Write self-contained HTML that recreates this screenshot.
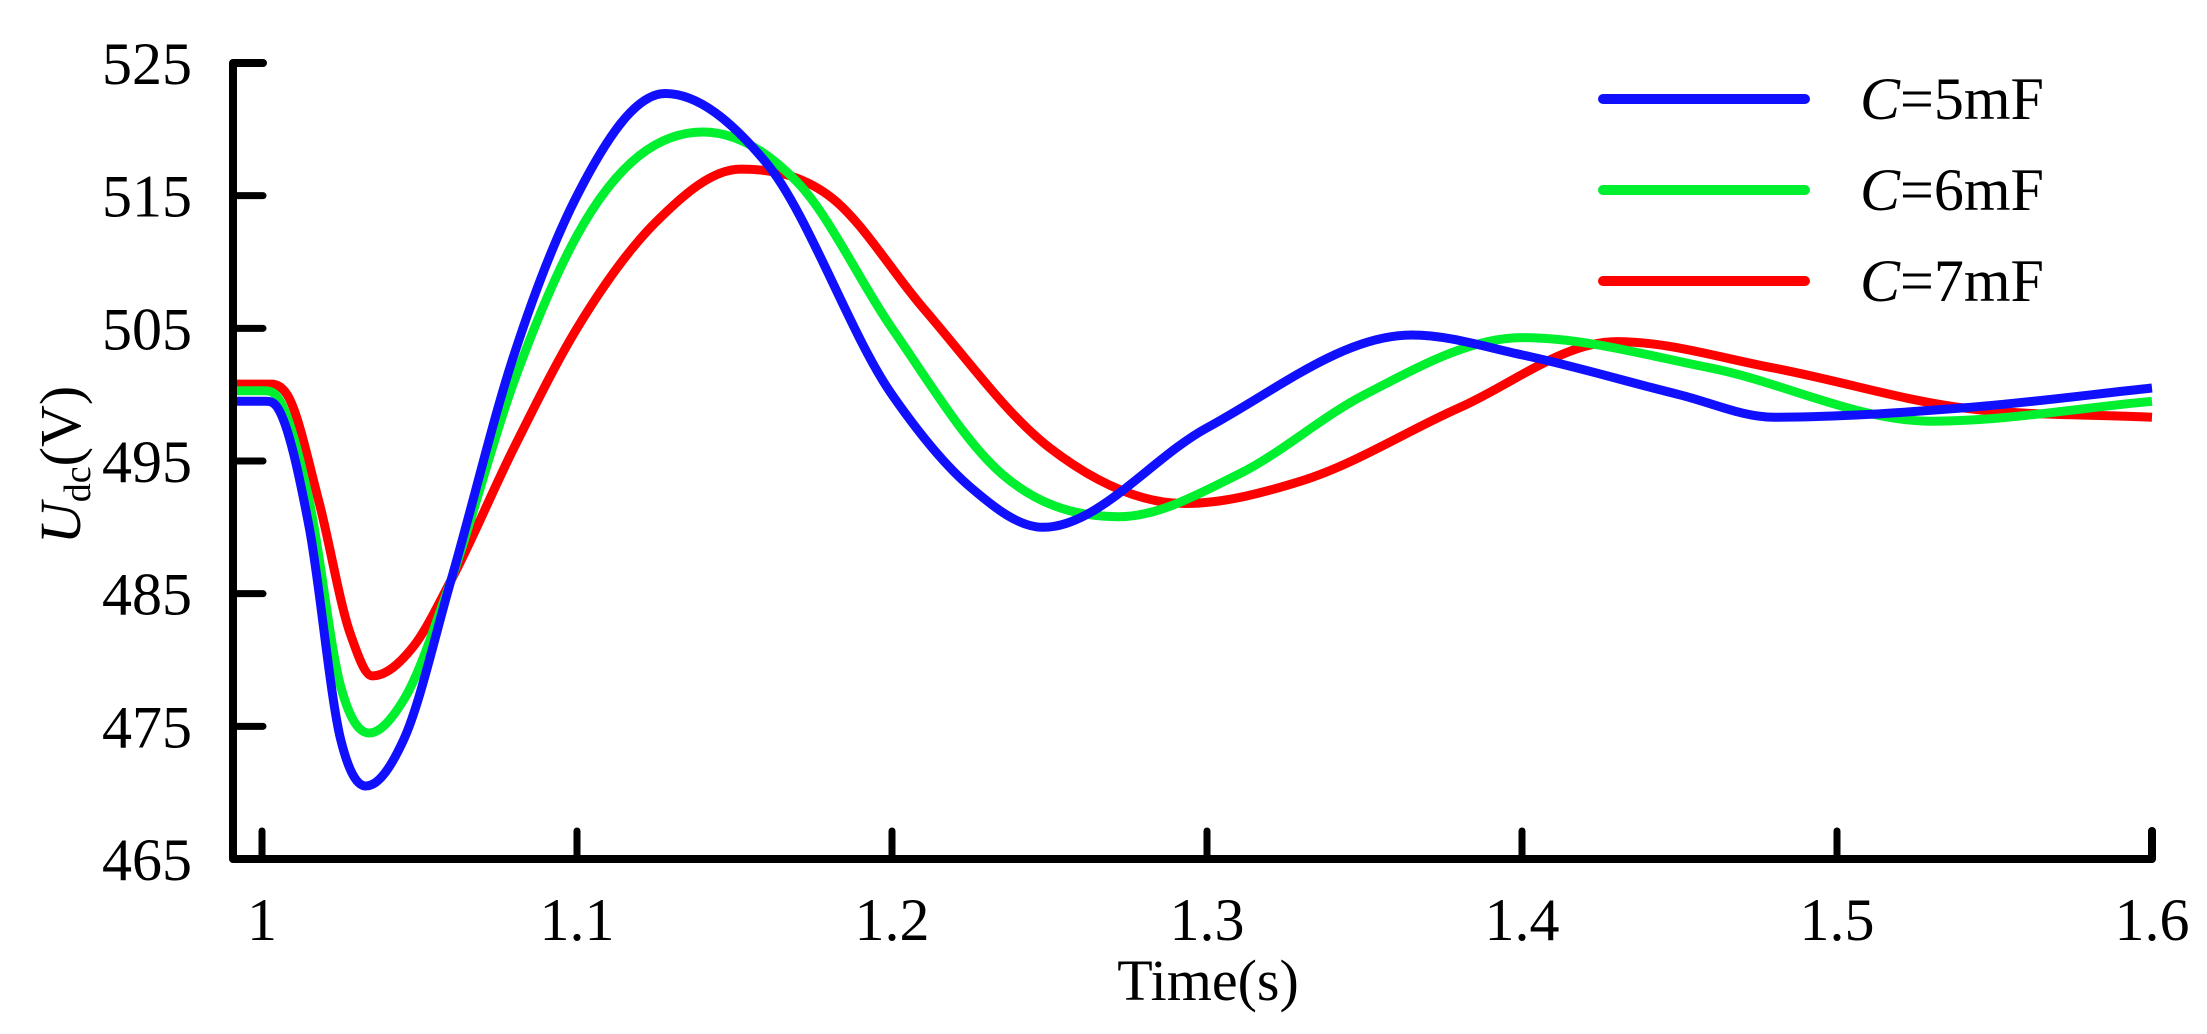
<!DOCTYPE html>
<html><head><meta charset="utf-8"><style>
html,body{margin:0;padding:0;background:#fff;}
svg{display:block;font-family:"Liberation Serif",serif;}
</style></head><body>
<svg id="chart" width="2207" height="1034" viewBox="0 0 2207 1034" xmlns="http://www.w3.org/2000/svg">
<g id="curves"></g>
<g id="axes"></g>
<text x="1208" y="1000" font-size="58" text-anchor="middle">Time(s)</text>
<text transform="translate(80,465) rotate(-90)" font-size="58" text-anchor="middle"><tspan font-style="italic">U</tspan><tspan font-size="38" dy="10">dc</tspan><tspan dy="-10">(V)</tspan></text>
<g>
 <g><line x1="1603" y1="99" x2="1805" y2="99" stroke="#1010ff" stroke-width="10" stroke-linecap="round"/><text x="1860" y="119" font-size="60"><tspan font-style="italic">C</tspan>=5mF</text></g>
 <g><line x1="1603" y1="190" x2="1805" y2="190" stroke="#00f030" stroke-width="10" stroke-linecap="round"/><text x="1860" y="210" font-size="60"><tspan font-style="italic">C</tspan>=6mF</text></g>
 <g><line x1="1603" y1="281" x2="1805" y2="281" stroke="#ff0000" stroke-width="10" stroke-linecap="round"/><text x="1860" y="301" font-size="60"><tspan font-style="italic">C</tspan>=7mF</text></g>
</g>
</svg>
<script>
const xTicks=[1,1.1,1.2,1.3,1.4,1.5,1.6];
const xTickLabels=["1","1.1","1.2","1.3","1.4","1.5","1.6"];
const yTicks=[465,475,485,495,505,515,525];
const yTickLabels=["465","475","485","495","505","515","525"];
const t5=[0.99,1.0,1.005,1.015,1.025,1.033,1.045,1.06,1.08,1.1,1.128,1.16,1.2,1.225,1.248,1.3,1.365,1.4,1.45,1.48,1.54,1.6];
const v5=[499.5,499.5,499,490,474,470.5,474,486,503,515,522.7,517.5,500,493,490,497.5,504.5,503,500,498.3,499,500.5];
const t6=[0.99,1.0,1.005,1.015,1.025,1.034,1.045,1.06,1.08,1.1,1.14,1.17,1.2,1.235,1.272,1.31,1.35,1.40,1.46,1.53,1.6];
const v6=[500.3,500.3,499.8,492,478,474.5,477,486,501,512,519.8,516,505,494,490.8,494,500,504.3,502,498,499.5];
const t7=[0.99,1.003,1.008,1.018,1.028,1.035,1.048,1.06,1.08,1.1,1.125,1.152,1.18,1.21,1.25,1.293,1.33,1.38,1.43,1.48,1.54,1.6];
const v7=[500.8,500.8,500,492,482,478.8,481,486,496,505,513,517,515,506.5,496,491.8,493.5,499,504,502,499,498.3];
const seriesColors=["#1010ff","#00f030","#ff0000"];

const X0=233,X1=2152,YB=859,YT=63;
function sx(t){return 262+(t-1)*3150;}
function sy(v){return YB-(v-465)/60*(YB-YT);}
function smooth(xs,ys){
  const n=xs.length,d=[],m=new Array(n);
  for(let i=0;i<n-1;i++)d.push((ys[i+1]-ys[i])/(xs[i+1]-xs[i]));
  m[0]=d[0];m[n-1]=d[n-2];
  for(let i=1;i<n-1;i++){
    if(d[i-1]*d[i]<=0){m[i]=0;}
    else{const h0=xs[i]-xs[i-1],h1=xs[i+1]-xs[i];m[i]=(d[i-1]*h1+d[i]*h0)/(h0+h1);}
  }
  let p="M"+sx(xs[0]).toFixed(1)+","+sy(ys[0]).toFixed(1);
  for(let i=0;i<n-1;i++){const h=xs[i+1]-xs[i];
    p+=" C"+sx(xs[i]+h/3).toFixed(1)+","+sy(ys[i]+m[i]*h/3).toFixed(1)+" "+sx(xs[i+1]-h/3).toFixed(1)+","+sy(ys[i+1]-m[i+1]*h/3).toFixed(1)+" "+sx(xs[i+1]).toFixed(1)+","+sy(ys[i+1]).toFixed(1);}
  return p;
}
const NS="http://www.w3.org/2000/svg";
const cg=document.getElementById('curves');
const ser=[[t7,v7,"c-7mf"],[t6,v6,"c-6mf"],[t5,v5,"c-5mf"]];
const cols=[seriesColors[2],seriesColors[1],seriesColors[0]];
ser.forEach((s,i)=>{
  const p=document.createElementNS(NS,'path');
  p.setAttribute('d',smooth(s[0],s[1]));
  p.setAttribute('fill','none');p.setAttribute('stroke',cols[i]);p.setAttribute('stroke-width','9');
  p.setAttribute('stroke-linejoin','round');
  
  
  cg.appendChild(p);
});
const ag=document.getElementById('axes');
ag.innerHTML='<path d="M'+(X0+30)+','+YT+' H'+X0+' V'+YB+' H'+X1+' V'+(YB-28)+'" fill="none" stroke="#000" stroke-width="8" stroke-linecap="round" stroke-linejoin="round"/>';
yTicks.forEach((v,i)=>{
  const l=document.createElementNS(NS,'line');
  l.setAttribute('x1',X0);l.setAttribute('x2',X0+30);l.setAttribute('y1',sy(v));l.setAttribute('y2',sy(v));
  l.setAttribute('stroke','#000');l.setAttribute('stroke-width','7');l.setAttribute('stroke-linecap','round');
  
  
  ag.appendChild(l);
  const t=document.createElementNS(NS,'text');
  t.setAttribute('x',192);t.setAttribute('y',sy(v)+21);t.setAttribute('font-size','60');t.setAttribute('text-anchor','end');
  t.textContent=yTickLabels[i];
  
  
  ag.appendChild(t);
});
xTicks.forEach((v,i)=>{
  const x=sx(v);
  const l=document.createElementNS(NS,'line');
  l.setAttribute('x1',x);l.setAttribute('x2',x);l.setAttribute('y1',YB);l.setAttribute('y2',YB-28);
  l.setAttribute('stroke','#000');l.setAttribute('stroke-width','7');l.setAttribute('stroke-linecap','round');
  
  
  ag.appendChild(l);
  const t=document.createElementNS(NS,'text');
  t.setAttribute('x',x);t.setAttribute('y',940);t.setAttribute('font-size','60');t.setAttribute('text-anchor','middle');
  t.textContent=xTickLabels[i];
  
  
  ag.appendChild(t);
});
</script>
</body></html>
